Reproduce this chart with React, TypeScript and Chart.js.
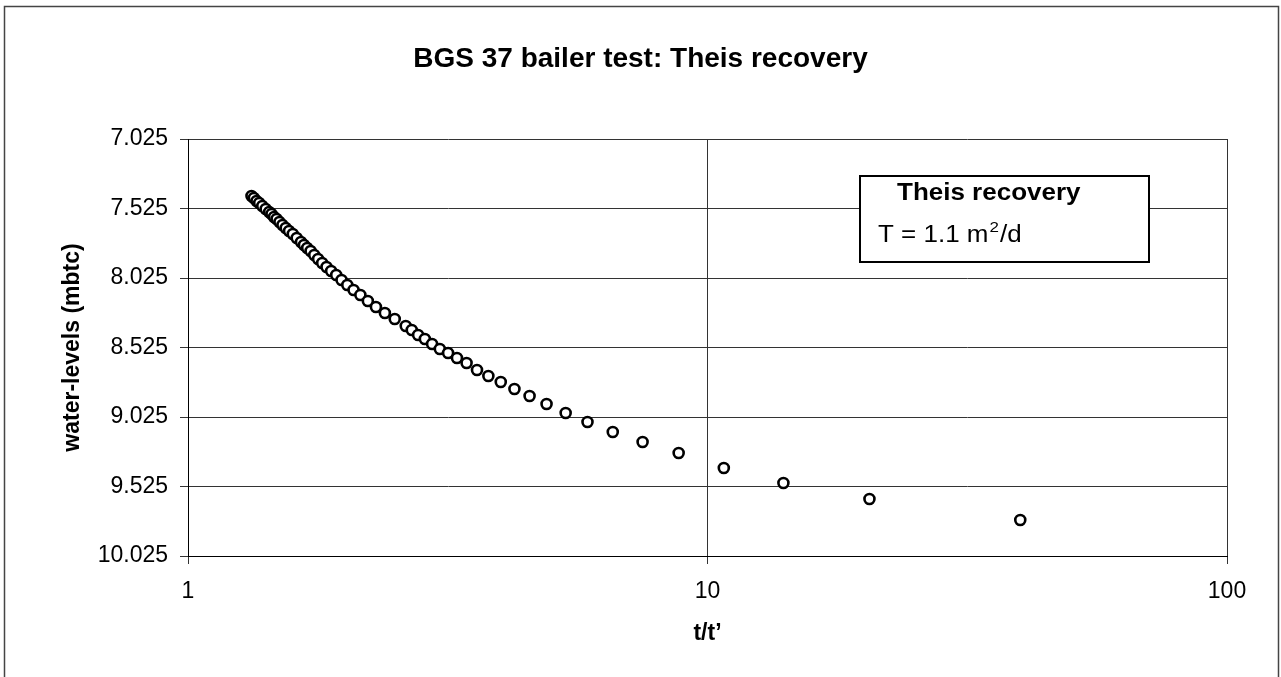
import React, { useEffect, useRef } from "react";
import { Chart, registerables } from "chart.js";

Chart.register(...registerables);

// t/t' (recovery ratio) and water levels (m below top of casing)
const ratioTT = [
  1.325, 1.339, 1.355, 1.371, 1.39, 1.411, 1.433, 1.448, 1.464, 1.481,
  1.5, 1.52, 1.542, 1.565, 1.591, 1.619, 1.65, 1.672, 1.696, 1.722,
  1.75, 1.78, 1.8125, 1.848, 1.886, 1.929, 1.975, 2.026, 2.083, 2.147,
  2.219, 2.3, 2.393, 2.5, 2.625, 2.696, 2.773, 2.857, 2.95, 3.053,
  3.167, 3.294, 3.4375, 3.6, 3.786, 4.0, 4.25, 4.545, 4.9, 5.333,
  5.875, 6.571, 7.5, 8.8, 10.75, 14.0, 20.5, 40.0,
];
const waterLevel = [
  7.435, 7.449, 7.471, 7.485, 7.507, 7.529, 7.55, 7.565, 7.586, 7.601,
  7.622, 7.644, 7.665, 7.687, 7.708, 7.737, 7.766, 7.788, 7.809, 7.831,
  7.86, 7.888, 7.917, 7.946, 7.975, 8.003, 8.039, 8.075, 8.111, 8.147,
  8.19, 8.234, 8.277, 8.32, 8.37, 8.399, 8.435, 8.464, 8.5, 8.536,
  8.565, 8.601, 8.637, 8.687, 8.73, 8.773, 8.824, 8.874, 8.931, 8.996,
  9.061, 9.133, 9.205, 9.284, 9.392, 9.5, 9.615, 9.766,
];

const yTickValues = [7.025, 7.525, 8.025, 8.525, 9.025, 9.525, 10.025];
const yTickLabels = ["7.025", "7.525", "8.025", "8.525", "9.025", "9.525", "10.025"];
const xTickValues = [1, 10, 100];
const xTickLabels = ["1", "10", "100"];

const chartTitle = "BGS 37 bailer test: Theis recovery";
const xTitle = "t/t\u2019";
const yTitle = "water-levels (mbtc)";
const noteTitle = "Theis recovery";
const noteLine = ["T = 1.1 m", "2", "/d"];

const FONT = "'Liberation Sans', Arial, Helvetica, sans-serif";
const NOTE_STRETCH = 1.13;

const framePlugin = {
  id: "frame",
  beforeDraw(chart: any) {
    const ctx = chart.ctx;
    ctx.save();
    ctx.strokeStyle = "#444";
    ctx.lineWidth = 1.5;
    ctx.beginPath();
    ctx.moveTo(4.5, chart.height + 2);
    ctx.lineTo(4.5, 6.5);
    ctx.lineTo(chart.width - 2.5, 6.5);
    ctx.lineTo(chart.width - 2.5, chart.height + 2);
    ctx.stroke();
    ctx.restore();
  },
};

function stretchedText(ctx: any, text: string, x: number, y: number): number {
  ctx.save();
  ctx.translate(x, y);
  ctx.scale(NOTE_STRETCH, 1);
  ctx.fillText(text, 0, 0);
  const w = ctx.measureText(text).width * NOTE_STRETCH;
  ctx.restore();
  return w;
}

const notePlugin = {
  id: "note",
  afterDraw(chart: any) {
    const ctx = chart.ctx;
    const a = chart.chartArea;
    const bx = a.left + 672;
    const by = a.top + 37;
    const bw = 289;
    const bh = 86;
    ctx.save();
    ctx.fillStyle = "#fff";
    ctx.fillRect(bx, by, bw, bh);
    ctx.strokeStyle = "#000";
    ctx.lineWidth = 2;
    ctx.strokeRect(bx, by, bw, bh);
    ctx.fillStyle = "#000";
    ctx.textBaseline = "alphabetic";
    ctx.textAlign = "left";
    ctx.font = `bold 23px ${FONT}`;
    stretchedText(ctx, noteTitle, bx + 37, by + 24);
    ctx.font = `23px ${FONT}`;
    let x = bx + 18;
    const base = by + 66;
    x += stretchedText(ctx, noteLine[0], x, base) + 1;
    ctx.font = `15px ${FONT}`;
    x += stretchedText(ctx, noteLine[1], x, base - 10) + 1;
    ctx.font = `23px ${FONT}`;
    stretchedText(ctx, noteLine[2], x, base);
    ctx.restore();
  },
};

export default function App() {
  const ref = useRef<HTMLCanvasElement | null>(null);

  useEffect(() => {
    const canvas = ref.current;
    if (!canvas) return;
    Chart.defaults.font.family = FONT;
    const chart = new Chart(canvas, {
      type: "scatter",
      data: {
        datasets: [
          {
            label: "Theis recovery",
            data: ratioTT.map((x, i) => ({ x, y: waterLevel[i] })),
            showLine: false,
            pointStyle: "circle",
            pointRadius: 5,
            pointBorderWidth: 2.6,
            pointBorderColor: "#000",
            pointBackgroundColor: "#fff",
          },
        ],
      },
      options: {
        animation: false,
        responsive: false,
        devicePixelRatio: 1,
        layout: { padding: 0 },
        plugins: {
          legend: { display: false },
          tooltip: { enabled: false },
          title: {
            display: true,
            text: chartTitle,
            color: "#000",
            font: { family: FONT, size: 28, weight: "bold", lineHeight: 1.2 },
            padding: { top: 42, bottom: 63.4 },
          },
        },
        scales: {
          x: {
            type: "logarithmic",
            position: "bottom",
            min: 1,
            max: 100,
            afterBuildTicks: (s: any) => {
              s.ticks = xTickValues.map((v) => ({ value: v }));
            },
            afterFit: (s: any) => {
              s.height = 121;
            },
            ticks: {
              callback: (_v: any, i: number) => xTickLabels[i],
              color: "#000",
              font: { family: FONT, size: 23 },
              padding: 14,
              maxRotation: 0,
              autoSkip: false,
            },
            grid: { color: "#333", lineWidth: 1, tickLength: 8, drawTicks: true },
            border: { color: "#000", width: 1 },
            title: {
              display: true,
              text: xTitle,
              color: "#000",
              font: { family: FONT, size: 23, weight: "bold", lineHeight: 1.2 },
              padding: { top: 0, bottom: 30 },
            },
          },
          y: {
            type: "linear",
            position: "left",
            reverse: true,
            min: 7.025,
            max: 10.025,
            afterBuildTicks: (s: any) => {
              s.ticks = yTickValues.map((v) => ({ value: v }));
            },
            afterFit: (s: any) => {
              s.width = 188;
            },
            ticks: {
              callback: (_v: any, i: number) => yTickLabels[i],
              color: "#000",
              font: { family: FONT, size: 23 },
              padding: 12,
            },
            grid: { color: "#333", lineWidth: 1, tickLength: 8, drawTicks: true },
            border: { color: "#000", width: 1 },
            title: {
              display: true,
              text: yTitle,
              color: "#000",
              font: { family: FONT, size: 23, weight: "bold", lineHeight: 1.2 },
              padding: { top: 59, bottom: 0 },
            },
          },
          yRight: {
            type: "linear",
            position: "right",
            display: true,
            grid: { display: false, drawTicks: false },
            border: { display: false },
            ticks: { display: false },
            afterFit: (s: any) => {
              s.width = 54;
            },
          },
        },
      },
      plugins: [framePlugin, notePlugin],
    } as any);
    return () => chart.destroy();
  }, []);

  return (
    <div
      style={{
        position: "fixed",
        left: 0,
        top: 0,
        width: 1281,
        height: 677,
        background: "#fff",
      }}
    >
      <canvas ref={ref} width={1281} height={677} style={{ width: 1281, height: 677, display: "block" }} />
    </div>
  );
}
